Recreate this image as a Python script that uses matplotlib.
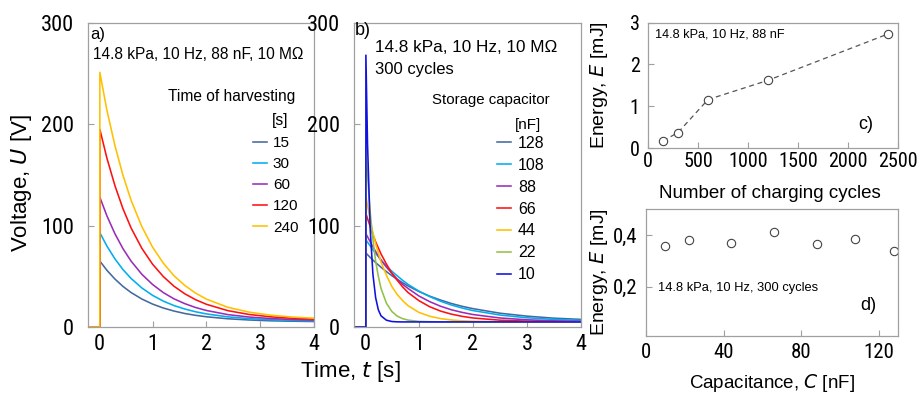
import matplotlib
matplotlib.use("Agg")
import matplotlib.pyplot as plt
from matplotlib.lines import Line2D
from matplotlib import font_manager
from matplotlib.font_manager import FontProperties

plt.rcParams['font.family'] = ['Liberation Sans', 'DejaVu Sans']

# ---------------- data ----------------
# panel a: discharge after different harvesting times
time_a = [-0.2, 0.02, 0.02, 0.15, 0.3, 0.45, 0.6, 0.8, 1.0, 1.2, 1.4, 1.6, 1.8,
          2.0, 2.4, 2.8, 3.2, 3.6, 4.0]
harvest_labels = ['15', '30', '60', '120', '240']
u_15 = [0, 0, 65, 56, 47.3, 40, 34, 27.6, 22.6, 18.7, 15.7, 13.3, 11.5, 10.1, 8.1, 6.9, 6.1, 5.7, 5.4]
u_30 = [0, 0, 93, 79.9, 67.2, 56.6, 47.9, 38.5, 31.2, 25.5, 21.1, 17.7, 15, 12.9, 10, 8.2, 7.1, 6.5, 6.1]
u_60 = [0, 0, 128, 109.7, 92, 77.2, 65, 52, 41.9, 33.9, 27.7, 23, 19.2, 16.3, 12.2, 9.8, 8.3, 7.4, 6.8]
u_120 = [0, 0, 195, 166.7, 139.4, 116.6, 97.7, 77.6, 61.9, 49.7, 40.1, 32.7, 26.9, 22.4, 16.1, 12.3, 10, 8.6, 7.8]
u_240 = [0, 0, 251, 214, 179, 149.5, 125, 99, 78.7, 62.9, 50.4, 40.9, 33.4, 27.5, 19.4, 14.6, 11.6, 9.8, 8.7]
series_a = [u_15, u_30, u_60, u_120, u_240]
colors_a = ['#44699f', '#00aeef', '#9a2db8', '#ff1010', '#ffc000']

# panel b: discharge for different storage capacitors
time_b = [-0.2, 0.02, 0.02, 0.05, 0.1, 0.15, 0.2, 0.25, 0.3, 0.4, 0.5, 0.6, 0.7,
          0.8, 1.0, 1.2, 1.4, 1.6, 1.8, 2.0, 2.5, 3.0, 3.5, 4.0]
cap_labels = ['128', '108', '88', '66', '44', '22', '10']
c_128 = [0, 0, 73, 71.3, 68.6, 66, 63.5, 61.2, 58.9, 54.6, 50.6, 47, 43.6, 40.5, 35, 30.4, 26.6, 23.2, 20.4, 18.1, 13.6, 10.7, 8.7, 7.5]
c_108 = [0, 0, 86, 83.6, 80, 76, 72.6, 69.4, 66, 60, 55, 50.4, 46, 42, 35.4, 30, 25.4, 21.7, 18.7, 16.2, 11.8, 9.1, 7.5, 6.5]
c_88 = [0, 0, 92, 89, 84, 79, 74.5, 70, 66, 59, 53, 47, 42, 38, 30.6, 25, 20.5, 17, 14.4, 12.3, 8.9, 7.1, 6.1, 5.6]
c_66 = [0, 0, 112, 107, 99, 91, 84, 78, 72, 62, 53, 46, 39.5, 34, 26, 20, 15.7, 12.7, 10.5, 8.9, 6.7, 5.8, 5.3, 5.1]
c_44 = [0, 0, 129, 120, 105, 93, 82, 73, 64, 51, 40, 32, 26, 21, 14.4, 10.6, 8.3, 6.9, 6.1, 5.7, 5.2, 5, 5, 5]
c_22 = [0, 0, 178, 150, 113, 86, 65, 50, 38, 23.5, 15.3, 10.7, 8.2, 6.8, 5.5, 5.2, 5, 5, 5, 5, 5, 5, 5, 5]
c_10 = [0, 0, 268, 181, 96, 52, 29, 17, 11, 6.7, 5.4, 5.1, 5, 5, 5, 5, 5, 5, 5, 5, 5, 5, 5, 5]
series_b = [c_128, c_108, c_88, c_66, c_44, c_22, c_10]
colors_b = ['#44699f', '#00aeef', '#9a2db8', '#ff1010', '#ffc000', '#92c04a', '#1010e0']

# panel c
cycles = [150, 300, 600, 1200, 2400]
energy_c = [0.17, 0.37, 1.16, 1.62, 2.73]

# panel d
capacitance = [10, 22, 44, 66, 88, 108, 128]
energy_d = [0.358, 0.382, 0.370, 0.410, 0.366, 0.386, 0.337]


# ---------------- narrow font for tick labels (if any installed) ----------------
def find_narrow():
    pref = ['Liberation Sans Narrow', 'Liberation Sans', 'Arial Narrow', 'Roboto Condensed',
            'Roboto', 'Noto Sans', 'Open Sans', 'DejaVu Sans']
    found = []
    for f in font_manager.fontManager.ttflist:
        st = f.stretch
        narrow = ('Narrow' in f.name) or ('Condensed' in f.name) or \
                 (isinstance(st, str) and 'condensed' in st) or \
                 (isinstance(st, (int, float)) and st < 500)
        if not narrow or f.style != 'normal':
            continue
        w = f.weight
        if not (w in (400, 'normal', 'regular', 'book', 'Regular')):
            continue
        if 'semi' in str(st).lower() or 'Semi' in f.fname:
            continue
        rank = pref.index(f.name) if f.name in pref else len(pref)
        found.append((rank, f.fname))
    if found:
        found.sort()
        return found[0][1]
    return None


NARROW = find_narrow()


def tick_font(size):
    if NARROW:
        return FontProperties(fname=NARROW, size=size)
    return FontProperties(family='Liberation Sans', size=size * 0.86)


# ---------------- figure ----------------
W, H = 921, 395
fig = plt.figure(figsize=(W / 100, H / 100), dpi=100)


def rect(x0, y0, x1, y1):
    return [x0 / W, 1 - y1 / H, (x1 - x0) / W, (y1 - y0) / H]


SPINE = '#a0a0a0'


def style(ax, tick_size, xpad, ypad):
    for s in ax.spines.values():
        s.set_color(SPINE)
        s.set_linewidth(0.9)
    ax.tick_params(direction='in', length=4, width=0.8, color=SPINE)
    ax.tick_params(axis='x', pad=xpad)
    ax.tick_params(axis='y', pad=ypad)
    fp = tick_font(tick_size)
    for lab in ax.get_xticklabels() + ax.get_yticklabels():
        lab.set_fontproperties(fp)


ax_a = fig.add_axes(rect(88, 22.7, 314, 327))
ax_b = fig.add_axes(rect(354, 22.7, 581, 327))
ax_c = fig.add_axes(rect(648, 22.7, 898, 148))
ax_d = fig.add_axes(rect(646, 209, 898, 336))

LW = 1.15

# panel a
for ys, col in zip(series_a, colors_a):
    ax_a.plot(time_a, ys, color=col, lw=LW)
ax_a.set_xlim(-0.2, 4)
ax_a.set_ylim(0, 300)
ax_a.set_xticks([0, 1, 2, 3, 4])
ax_a.set_yticks([0, 100, 200, 300])
style(ax_a, 16, 5, 10)
handles_a = [Line2D([], [], color=c, lw=LW) for c in colors_a]
ax_a.legend(handles_a, harvest_labels, loc='upper left', bbox_to_anchor=(0.73, 0.628),
            frameon=False, fontsize=11, handlelength=0.9, handletextpad=0.4,
            labelspacing=0.47, borderpad=0, borderaxespad=0)
ax_a.text(0.009, 0.96, 'a)', transform=ax_a.transAxes, fontsize=12, va='center', ha='left')
ax_a.text(0.021, 0.894, '14.8 kPa, 10 Hz, 88 nF, 10 M\u03a9', transform=ax_a.transAxes,
          fontsize=11.2, va='center', ha='left')
ax_a.text(0.916, 0.759, 'Time of harvesting', transform=ax_a.transAxes,
          fontsize=11.2, va='center', ha='right')
ax_a.text(0.814, 0.680, '[s]', transform=ax_a.transAxes, fontsize=11.2,
          va='center', ha='left')

# panel b
for ys, col in zip(series_b, colors_b):
    ax_b.plot(time_b, ys, color=col, lw=LW)
ax_b.set_xlim(-0.2, 4)
ax_b.set_ylim(0, 300)
ax_b.set_xticks([0, 1, 2, 3, 4])
ax_b.set_yticks([0, 100, 200, 300])
style(ax_b, 16, 5, 10)
handles_b = [Line2D([], [], color=c, lw=LW) for c in colors_b]
ax_b.legend(handles_b, cap_labels, loc='upper left', bbox_to_anchor=(0.63, 0.628),
            frameon=False, fontsize=11.5, handlelength=0.9, handletextpad=0.4,
            labelspacing=0.43, borderpad=0, borderaxespad=0)
ax_b.text(0.004, 0.973, 'b)', transform=ax_b.transAxes, fontsize=13, va='center', ha='left')
ax_b.text(0.0925, 0.917, '14.8 kPa, 10 Hz, 10 M\u03a9', transform=ax_b.transAxes,
          fontsize=12.3, va='center', ha='left')
ax_b.text(0.0925, 0.845, '300 cycles', transform=ax_b.transAxes,
          fontsize=12, va='center', ha='left')
ax_b.text(0.863, 0.746, 'Storage capacitor', transform=ax_b.transAxes,
          fontsize=10.8, va='center', ha='right')
ax_b.text(0.709, 0.664, '[nF]', transform=ax_b.transAxes, fontsize=11,
          va='center', ha='left')

fig.text(22 / W, 1 - 183 / H, 'Voltage, $\\it{U}$ [V]', rotation=90, fontsize=16,
         ha='center', va='center')
fig.text(350 / W, 1 - 372 / H, 'Time, $\\it{t}$ [s]', fontsize=16,
         ha='center', va='center')

# panel c
ax_c.plot(cycles, energy_c, color='#555555', lw=0.9, dashes=(4, 3), marker='o',
          markersize=6, mfc='white', mec='#444444', mew=0.8)
ax_c.set_xlim(0, 2500)
ax_c.set_ylim(0, 3)
ax_c.set_xticks([0, 500, 1000, 1500, 2000, 2500])
ax_c.set_yticks([0, 1, 2, 3])
style(ax_c, 14.5, 3, 6)
ax_c.text(0.028, 0.902, '14.8 kPa, 10 Hz, 88 nF', transform=ax_c.transAxes,
          fontsize=9.2, va='center', ha='left')
ax_c.text(0.84, 0.184, 'c)', transform=ax_c.transAxes, fontsize=13,
          va='center', ha='left')
fig.text(770 / W, 1 - 194 / H, 'Number of charging cycles', fontsize=13.5,
         ha='center', va='center')
fig.text(599 / W, 1 - 85 / H, 'Energy, $\\it{E}$ [mJ]', rotation=90, fontsize=14,
         ha='center', va='center')

# panel d
ax_d.plot(capacitance, energy_d, ls='none', marker='o', markersize=6,
          mfc='white', mec='#444444', mew=0.8)
ax_d.set_xlim(0, 130)
ax_d.set_ylim(0.01, 0.5)
ax_d.set_xticks([0, 40, 80, 120])
ax_d.set_yticks([0.2, 0.4])
ax_d.set_yticklabels(['0,2', '0,4'])
style(ax_d, 15, 5, 6)
ax_d.text(0.048, 0.378, '14.8 kPa, 10 Hz, 300 cycles', transform=ax_d.transAxes,
          fontsize=9.3, va='center', ha='left')
ax_d.text(0.849, 0.244, 'd)', transform=ax_d.transAxes, fontsize=13,
          va='center', ha='left')
fig.text(772 / W, 1 - 383 / H, 'Capacitance, $\\it{C}$ [nF]', fontsize=13.5,
         ha='center', va='center')
fig.text(599 / W, 1 - 272 / H, 'Energy, $\\it{E}$ [mJ]', rotation=90, fontsize=14,
         ha='center', va='center')

fig.savefig('out.png', dpi=100)
